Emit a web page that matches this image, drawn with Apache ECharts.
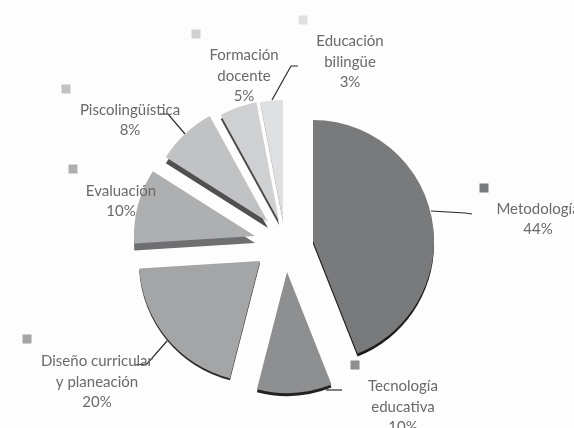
<!DOCTYPE html>
<html>
<head>
<meta charset="utf-8">
<style>html,body{margin:0;padding:0;background:#fff;overflow:hidden}#c{width:574px;height:428px}</style>
<script src="https://cdn.jsdelivr.net/npm/echarts@6/dist/echarts.min.js"></script>
</head>
<body>
<div id="c"></div>
<script>
const categories = ['Metodología','Tecnología\neducativa','Diseño curricular\ny planeación','Evaluación','Piscolingüística','Formación\ndocente','Educación\nbilingüe'];
const values = [44,10,20,10,8,5,3];
const colors = ['#797a7c','#8e8f91','#a4a5a7','#aeafb1','#c1c2c4','#cfd0d2','#dfe0e2'];
const rimColors = ['#1c1c1c','#222222','#2a2a2a','#6e6f71','#505052','#4a4a4c','#8c8d8f'];
// layout of the exploded slices and annotations
const centers = [[313,241],[287,272],[260,261],[255,236],[268,222],[279,221],[283,221]];
const rimDepth = [3,3,2,7,6,4,1];
const labelPos = [[538,219],[403,407],[97,382],[121,201],[130,120],[244,76],[350,62]];
const leaders = [
  [[431,211],[465,213],[472,214]],
  [[326,390],[333,390],[342,390]],
  [[167,341],[147,364],[135,365]],
  null,
  [[185,134],[168,114],[160,114]],
  null,
  [[272,100],[291,66],[298,66]]
];
const markers = [[484,188],[355,365],[27,339],[73,169],[66,89],[196,34],[303,20]];
const radius = 121;

function sliceData(i, color, withLabel){
  return categories.map((name,j)=>({
    name, value: values[j],
    itemStyle:{color: j===i ? color : 'rgba(0,0,0,0)', borderWidth:0},
    label:{show: withLabel && j===i},
    labelLine:{show: withLabel && j===i && !!leaders[i]}
  }));
}
const series = [];
categories.forEach((_,i)=>{
  series.push({
    type:'pie', silent:true, animation:false, clockwise:true, startAngle:90, z:1,
    center:[centers[i][0], centers[i][1]+rimDepth[i]], radius:radius,
    label:{show:false}, labelLine:{show:false}, emphasis:{disabled:true},
    data:sliceData(i, rimColors[i], false)
  });
});
categories.forEach((_,i)=>{
  series.push({
    type:'pie', silent:true, animation:false, clockwise:true, startAngle:90, z:2,
    center:centers[i], radius:radius, percentPrecision:0, avoidLabelOverlap:false,
    emphasis:{disabled:true},
    label:{show:true, position:'outer', formatter:'{b}\n{d}%', color:'#6a6a6a',
      fontFamily:'Lato', fontSize:15, lineHeight:20.5, align:'center', alignTo:'none'},
    labelLine:{show:true, length:5, length2:5, minTurnAngle:0, maxSurfaceAngle:180,
      lineStyle:{color:'#2a2a2a', width:1.2}},
    labelLayout:(p)=> p.dataIndex===i ? {
      x:labelPos[i][0], y:labelPos[i][1], align:'center', verticalAlign:'middle',
      labelLinePoints: leaders[i] || undefined
    } : {},
    data:sliceData(i, colors[i], true)
  });
});
const chart = echarts.init(document.getElementById('c'),null,{renderer:'canvas'});
chart.setOption({
  backgroundColor:'#fdfdfd',
  animation:false,
  graphic:markers.map((m,i)=>({
    type:'rect', silent:true, shape:{x:m[0]-4.5,y:m[1]-4.5,width:9,height:9},
    style:{fill:colors[i]}
  })),
  series
});
</script>
</body>
</html>
